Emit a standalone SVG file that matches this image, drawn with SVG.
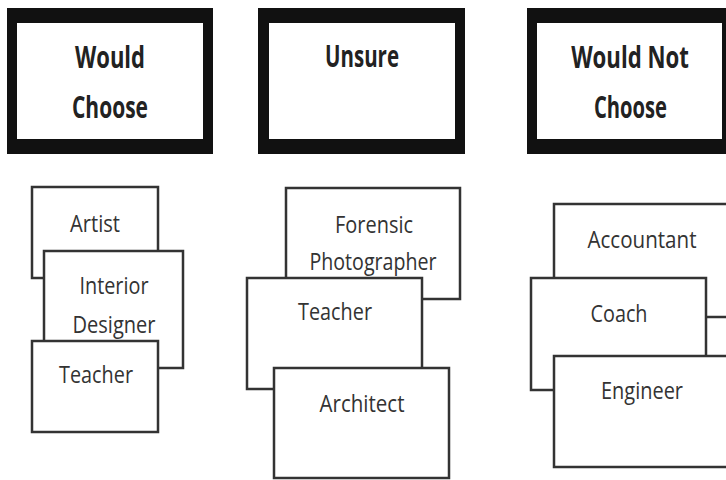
<svg xmlns="http://www.w3.org/2000/svg" width="726" height="480" viewBox="0 0 726 480">
<style>
.hdo{fill:#111}
.hdi{fill:#fff}
.ht{font-family:"Open Sans","Liberation Sans",sans-serif;font-weight:bold;font-size:30px;fill:#222;text-anchor:middle}
.card{fill:#fff;stroke:#333;stroke-width:2.5}
.ct{font-family:"Open Sans","Liberation Sans",sans-serif;font-size:24px;fill:#333;text-anchor:middle}
</style>
<rect width="726" height="480" fill="#fff"/>
<g id="hdr-would">
<rect class="hdo" x="7" y="8" width="206" height="146"/>
<rect class="hdi" x="17" y="23" width="186" height="116"/>
<text class="ht" x="110" y="68" textLength="70" lengthAdjust="spacingAndGlyphs">Would</text>
<text class="ht" x="110" y="118" textLength="76" lengthAdjust="spacingAndGlyphs">Choose</text>
</g>
<g id="hdr-unsure">
<rect class="hdo" x="258" y="8" width="207" height="146"/>
<rect class="hdi" x="269" y="23" width="186" height="116"/>
<text class="ht" x="362" y="67" textLength="74" lengthAdjust="spacingAndGlyphs">Unsure</text>
</g>
<g id="hdr-not">
<rect class="hdo" x="527" y="8" width="199" height="146"/>
<rect class="hdi" x="537" y="23" width="185" height="116"/>
<text class="ht" transform="translate(630 68) scale(0.74 1)" x="0" y="0">Would Not</text>
<text class="ht" x="630.5" y="118" textLength="73" lengthAdjust="spacingAndGlyphs">Choose</text>
</g>
<g id="card-artist">
<rect class="card" x="32" y="187" width="126" height="91"/>
<text class="ct" x="95" y="232" textLength="50" lengthAdjust="spacingAndGlyphs">Artist</text>
</g>
<g id="card-interior">
<rect class="card" x="44" y="251" width="139" height="117"/>
<text class="ct" x="114" y="294" textLength="69" lengthAdjust="spacingAndGlyphs">Interior</text>
<text class="ct" x="114" y="333" textLength="83" lengthAdjust="spacingAndGlyphs">Designer</text>
</g>
<g id="card-teacher1">
<rect class="card" x="32" y="341" width="126" height="91"/>
<text class="ct" x="96" y="383" textLength="74" lengthAdjust="spacingAndGlyphs">Teacher</text>
</g>
<g id="card-forensic">
<rect class="card" x="286" y="188" width="174" height="111"/>
<text class="ct" x="374" y="233" textLength="78" lengthAdjust="spacingAndGlyphs">Forensic</text>
<text class="ct" x="373" y="270" textLength="127" lengthAdjust="spacingAndGlyphs">Photographer</text>
</g>
<g id="card-teacher2">
<rect class="card" x="247" y="278" width="175" height="111"/>
<text class="ct" x="335" y="320" textLength="74" lengthAdjust="spacingAndGlyphs">Teacher</text>
</g>
<g id="card-architect">
<rect class="card" x="274" y="368" width="175" height="110"/>
<text class="ct" x="362" y="412" textLength="85" lengthAdjust="spacingAndGlyphs">Architect</text>
</g>
<g id="card-accountant">
<rect class="card" x="554" y="204" width="190" height="113"/>
<text class="ct" x="642" y="248" textLength="109" lengthAdjust="spacingAndGlyphs">Accountant</text>
</g>
<g id="card-coach">
<rect class="card" x="531" y="278" width="175" height="112"/>
<text class="ct" x="619" y="322" textLength="57" lengthAdjust="spacingAndGlyphs">Coach</text>
</g>
<g id="card-engineer">
<rect class="card" x="554" y="356" width="190" height="111"/>
<text class="ct" x="642" y="399" textLength="82" lengthAdjust="spacingAndGlyphs">Engineer</text>
</g>
</svg>
